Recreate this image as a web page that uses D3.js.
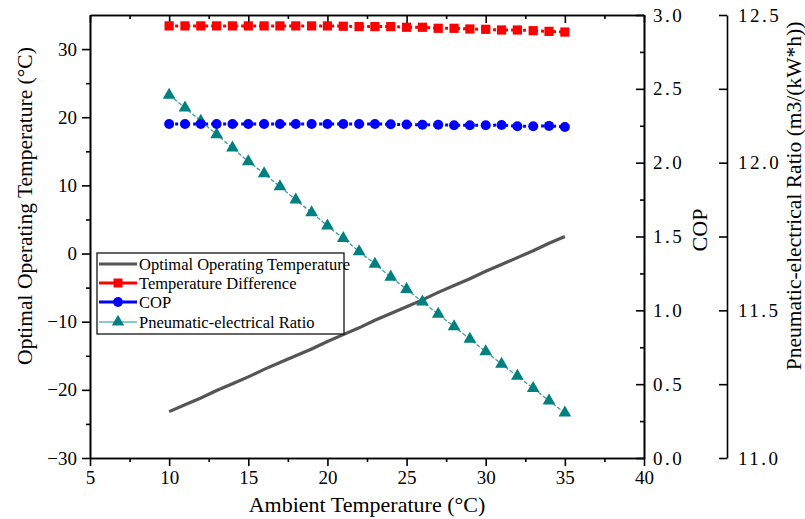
<!DOCTYPE html>
<html><head><meta charset="utf-8">
<script src="https://cdn.jsdelivr.net/npm/d3@7"></script>
<style>
body{margin:0;background:#fff}
svg{display:block}
</style></head><body>
<svg id="chart" width="805" height="519"></svg>
<script>
const ambientTemp = [10,11,12,13,14,15,16,17,18,19,20,21,22,23,24,25,26,27,28,29,30,31,32,33,34,35];
const optimalTemp = [-23.2,-22.2,-21.2,-20.1,-19.1,-18.1,-17.0,-16.0,-15.0,-14.0,-12.9,-11.9,-10.9,-9.8,-8.8,-7.8,-6.8,-5.7,-4.7,-3.7,-2.6,-1.6,-0.6,0.4,1.5,2.5];
const tempDiff = [33.4,33.4,33.4,33.4,33.4,33.4,33.4,33.4,33.4,33.4,33.4,33.35,33.3,33.3,33.3,33.2,33.2,33.05,33.05,32.95,32.9,32.8,32.8,32.7,32.6,32.5];
const cop = [2.262,2.262,2.262,2.262,2.262,2.262,2.262,2.262,2.262,2.262,2.262,2.262,2.262,2.262,2.260,2.258,2.257,2.257,2.253,2.253,2.253,2.255,2.247,2.247,2.249,2.242];
const pneRatio = [12.229,12.186,12.141,12.095,12.050,12.004,11.963,11.919,11.874,11.831,11.786,11.744,11.699,11.657,11.613,11.571,11.529,11.487,11.445,11.403,11.360,11.318,11.277,11.236,11.194,11.153];
const xTicks = [5,10,15,20,25,30,35,40];
const xMinorTicks = [7.5,12.5,17.5,22.5,27.5,32.5,37.5];
const leftTicks = [-30,-20,-10,0,10,20,30];
const leftMinorTicks = [-25,-15,-5,5,15,25];
const copTicks = [0,0.5,1,1.5,2,2.5,3];
const copMinorTicks = [0.25,0.75,1.25,1.75,2.25,2.75];
const prTicks = [11,11.25,11.5,11.75,12,12.25,12.5];
const seriesNames = ["Optimal Operating Temperature","Temperature Difference","COP","Pneumatic-electrical Ratio"];
const xTitle = "Ambient Temperature (°C)";
const leftTitle = "Optimal Operating Temperature (°C)";
const copTitle = "COP";
const prTitle = "Pneumatic-electrical Ratio (m3/(kW*h))";

const FONT = '"Liberation Serif"';
const svg = d3.select("#chart");
const L = 90, R = 644, T = 15, B = 458, PRX = 727;
const x = d3.scaleLinear().domain([5,40]).range([L,R]);
const yL = d3.scaleLinear().domain([-30,35]).range([B,T]);
const yC = d3.scaleLinear().domain([0,3]).range([B,T]);
const yP = d3.scaleLinear().domain([11,12.5]).range([B,T]);

function styleAxis(g, fs){
  g.selectAll("path.domain").attr("stroke","#000").attr("stroke-width",1.6);
  g.selectAll(".tick line").attr("stroke","#000").attr("stroke-width",1.6);
  g.selectAll("text").attr("font-size",fs).attr("fill","#000");
}
// bottom
let g = svg.append("g").attr("transform",`translate(0,${B})`)
  .call(d3.axisBottom(x).tickValues(xTicks).tickSize(8).tickSizeOuter(0).tickPadding(5).tickFormat(d3.format("d")));
styleAxis(g,19);
g = svg.append("g").attr("transform",`translate(0,${B})`)
  .call(d3.axisBottom(x).tickValues(xMinorTicks).tickSize(4).tickSizeOuter(0).tickFormat(""));
styleAxis(g,19);
// top
g = svg.append("g").attr("transform",`translate(0,${T})`)
  .call(d3.axisTop(x).tickValues(xTicks).tickSize(-8).tickSizeOuter(0).tickFormat(""));
styleAxis(g,19);
g = svg.append("g").attr("transform",`translate(0,${T})`)
  .call(d3.axisTop(x).tickValues(xMinorTicks).tickSize(-4).tickSizeOuter(0).tickFormat(""));
styleAxis(g,19);
// left
g = svg.append("g").attr("transform",`translate(${L},0)`)
  .call(d3.axisLeft(yL).tickValues(leftTicks).tickSize(8).tickSizeOuter(0).tickPadding(5));
styleAxis(g,19);
g = svg.append("g").attr("transform",`translate(${L},0)`)
  .call(d3.axisLeft(yL).tickValues(leftMinorTicks).tickSize(4).tickSizeOuter(0).tickFormat(""));
styleAxis(g,19);
// right COP
g = svg.append("g").attr("transform",`translate(${R},0)`)
  .call(d3.axisRight(yC).tickValues(copTicks).tickSize(-8).tickSizeOuter(0).tickPadding(9).tickFormat(d3.format(".1f")));
styleAxis(g,19); g.selectAll("text").attr("letter-spacing","2.5px");
g = svg.append("g").attr("transform",`translate(${R},0)`)
  .call(d3.axisRight(yC).tickValues(copMinorTicks).tickSize(-4).tickSizeOuter(0).tickFormat(""));
styleAxis(g,19);
// PR axis
g = svg.append("g").attr("transform",`translate(${PRX},0)`)
  .call(d3.axisRight(yP).tickValues(prTicks).tickSize(-8).tickSizeOuter(0).tickPadding(11)
    .tickFormat(d => (Math.abs(d*2 - Math.round(d*2))<1e-9) ? d3.format(".1f")(d) : ""));
styleAxis(g,19); g.selectAll("text").attr("letter-spacing","2.5px");

// titles
const tt = svg.append("g");
tt.append("text").attr("x",(L+R)/2).attr("y",512).attr("text-anchor","middle").attr("font-size",22).text(xTitle);
tt.append("text").attr("transform",`translate(32,206) rotate(-90)`).attr("text-anchor","middle").attr("font-size",21.5).text(leftTitle);
tt.append("text").attr("transform",`translate(707,230) rotate(-90)`).attr("text-anchor","middle").attr("font-size",22).text(copTitle);
tt.append("text").attr("transform",`translate(801,196) rotate(-90)`).attr("text-anchor","middle").attr("font-size",21.5).text(prTitle);

const idx = d3.range(ambientTemp.length);
// optimal temp line
svg.append("path").attr("fill","none").attr("stroke","#555").attr("stroke-width",3.2)
  .attr("d", d3.line().x(i=>x(ambientTemp[i])).y(i=>yL(optimalTemp[i]))(idx));
// pneumatic ratio
svg.append("path").attr("fill","none").attr("stroke","#3a9e9e").attr("stroke-width",1.3).attr("stroke-dasharray","4,2")
  .attr("d", d3.line().x(i=>x(ambientTemp[i])).y(i=>yP(pneRatio[i]))(idx));
svg.append("g").selectAll("path").data(idx).join("path")
  .attr("transform",i=>`translate(${x(ambientTemp[i])},${yP(pneRatio[i])})`)
  .attr("d", d3.symbol(d3.symbolTriangle,70)()).attr("fill","#008080");
// temp diff
svg.append("path").attr("fill","none").attr("stroke","#ff0000").attr("stroke-width",3).attr("stroke-dasharray","3,3")
  .attr("d", d3.line().x(i=>x(ambientTemp[i])).y(i=>yL(tempDiff[i]))(idx));
svg.append("g").selectAll("path").data(idx).join("path")
  .attr("transform",i=>`translate(${x(ambientTemp[i])},${yL(tempDiff[i])})`)
  .attr("d", d3.symbol(d3.symbolSquare,85)()).attr("fill","#ff0000");
// cop
svg.append("path").attr("fill","none").attr("stroke","#0000ff").attr("stroke-width",3).attr("stroke-dasharray","3,3")
  .attr("d", d3.line().x(i=>x(ambientTemp[i])).y(i=>yC(cop[i]))(idx));
svg.append("g").selectAll("circle").data(idx).join("circle")
  .attr("cx",i=>x(ambientTemp[i])).attr("cy",i=>yC(cop[i])).attr("r",5).attr("fill","#0000ff");

// legend
const lg = svg.append("g");
lg.append("rect").attr("x",97).attr("y",253).attr("width",247).attr("height",81)
  .attr("fill","#fff").attr("stroke","#000").attr("stroke-width",1.2);
const rowY = [264,283,302,322];
const lstyles = [
  {c:"#555",w:3.2,sym:null},
  {c:"#ff0000",w:3,sym:d3.symbolSquare,size:81,fill:"#ff0000"},
  {c:"#0000ff",w:3,sym:d3.symbolCircle,size:75,fill:"#0000ff"},
  {c:"#5fb8b8",w:1.5,sym:d3.symbolTriangle,size:66,fill:"#008080"}
];
seriesNames.forEach((n,k)=>{
  const s = lstyles[k];
  lg.append("line").attr("x1",99).attr("x2",137).attr("y1",rowY[k]).attr("y2",rowY[k]).attr("stroke",s.c).attr("stroke-width",s.w);
  if(s.sym) lg.append("path").attr("transform",`translate(118,${rowY[k]})`).attr("d",d3.symbol(s.sym,s.size)()).attr("fill",s.fill);
  lg.append("text").attr("x",139).attr("y",rowY[k]).attr("dy","0.35em").attr("font-size",16.5).text(n);
});
svg.selectAll("text").style("font-family", FONT).style("fill","#000");
</script></body></html>
